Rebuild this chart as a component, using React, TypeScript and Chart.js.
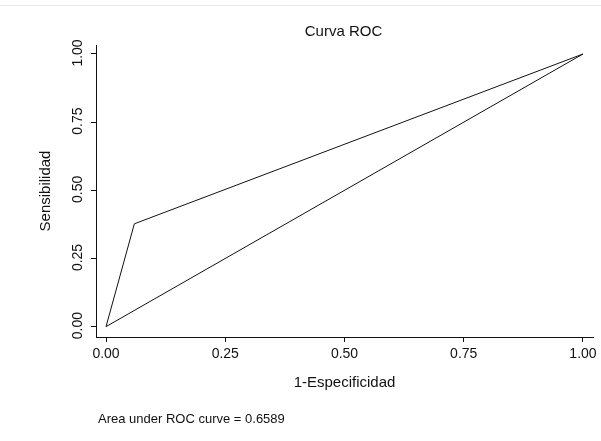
import React, { useEffect, useRef } from "react";
import { Chart, registerables } from "chart.js";

Chart.register(...registerables);

// ROC curve points (1 - specificity, sensitivity)
const rocFpr = [0, 0.0594, 1];
const rocTpr = [0, 0.3772, 1];
// chance diagonal
const diagX = [0, 1];
const diagY = [0, 1];
// axis tick values
const tickValues = [0, 0.25, 0.5, 0.75, 1];
const aucValue = 0.6589;

const chartTitle = "Curva ROC";
const xTitle = "1-Especificidad";
const yTitle = "Sensibilidad";
const aucNote = `Area under ROC curve = ${aucValue.toFixed(4)}`;

const FONT = "'Liberation Sans', Arial, sans-serif";
const INK = "#111111";

const textPlugin = {
  id: "rocText",
  afterDraw(chart: any) {
    const ctx = chart.ctx as CanvasRenderingContext2D;
    const yScale = chart.scales.y;
    const area = chart.chartArea;
    ctx.save();
    ctx.fillStyle = INK;
    // title
    ctx.font = `15px ${FONT}`;
    ctx.textAlign = "center";
    ctx.textBaseline = "middle";
    ctx.fillText(chartTitle, (area.left + area.right) / 2 - 1, 32);
    // rotated y tick labels
    ctx.font = `14px ${FONT}`;
    for (const v of tickValues) {
      const py = yScale.getPixelForValue(v) - 1;
      ctx.save();
      ctx.translate(78, py);
      ctx.rotate(-Math.PI / 2);
      ctx.textAlign = "center";
      ctx.textBaseline = "middle";
      ctx.fillText(v.toFixed(2), 0, 0);
      ctx.restore();
    }
    // area note
    ctx.font = `13px ${FONT}`;
    ctx.textAlign = "left";
    ctx.textBaseline = "middle";
    ctx.fillText(aucNote, 98, 419);
    // faint top rule
    ctx.fillStyle = "#ebebeb";
    ctx.fillRect(0, 5, chart.width, 1);
    ctx.restore();
  },
};

export default function App() {
  const ref = useRef<HTMLCanvasElement | null>(null);

  useEffect(() => {
    document.body.style.margin = "0";
    const canvas = ref.current;
    if (!canvas) return;
    const chart = new Chart(canvas, {
      type: "scatter",
      data: {
        datasets: [
          {
            label: "ROC",
            data: rocFpr.map((x, i) => ({ x, y: rocTpr[i] })),
            showLine: true,
            borderColor: INK,
            borderWidth: 1,
            pointRadius: 0,
            fill: false,
          },
          {
            label: "Diagonal",
            data: diagX.map((x, i) => ({ x, y: diagY[i] })),
            showLine: true,
            borderColor: INK,
            borderWidth: 1,
            pointRadius: 0,
            fill: false,
          },
        ],
      },
      options: {
        animation: false,
        responsive: false,
        maintainAspectRatio: false,
        layout: { padding: { left: 0, right: 8, top: 45, bottom: 44 } },
        plugins: {
          legend: { display: false },
          tooltip: { enabled: false },
          title: { display: false },
        },
        scales: {
          x: {
            type: "linear",
            min: -0.021,
            max: 1.021,
            afterBuildTicks: (s: any) => {
              s.ticks = tickValues.map((value) => ({ value }));
            },
            afterFit: (s: any) => {
              s.height = 60;
            },
            grid: {
              drawOnChartArea: false,
              drawTicks: true,
              tickLength: 5,
              color: INK,
              lineWidth: 1,
            },
            border: { display: true, color: INK, width: 1 },
            ticks: {
              color: INK,
              padding: 4,
              maxRotation: 0,
              font: { family: FONT, size: 14 },
              callback: (v: any) => Number(v).toFixed(2),
            },
            title: {
              display: true,
              text: xTitle,
              color: INK,
              font: { family: FONT, size: 15 },
              padding: { top: 0, bottom: 5 },
            },
          },
          y: {
            type: "linear",
            min: -0.038,
            max: 1.033,
            afterBuildTicks: (s: any) => {
              s.ticks = tickValues.map((value) => ({ value }));
            },
            afterFit: (s: any) => {
              s.width = 96;
            },
            grid: {
              drawOnChartArea: false,
              drawTicks: true,
              tickLength: 5,
              color: INK,
              lineWidth: 1,
            },
            border: { display: true, color: INK, width: 1 },
            ticks: { display: false },
            title: {
              display: true,
              text: yTitle,
              color: INK,
              font: { family: FONT, size: 15 },
              padding: { top: 37, bottom: 0 },
            },
          },
        },
      },
      plugins: [textPlugin],
    });
    return () => chart.destroy();
  }, []);

  return (
    <div style={{ width: 601, height: 441, background: "#ffffff" }}>
      <canvas ref={ref} width={601} height={441} style={{ display: "block" }} />
    </div>
  );
}
